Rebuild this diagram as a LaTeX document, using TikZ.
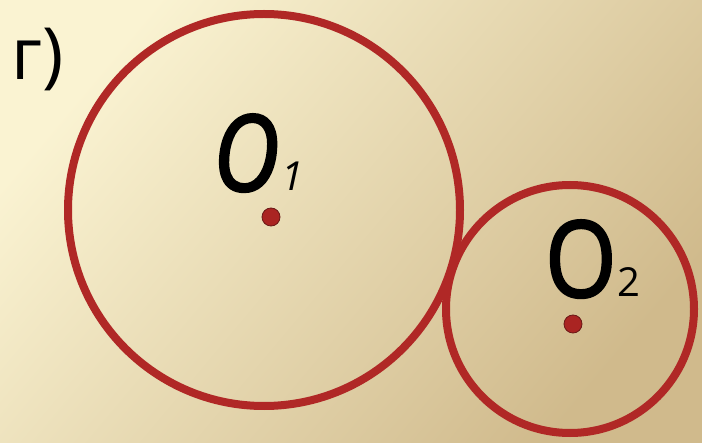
\documentclass[tikz,border=0pt]{standalone}
\usepackage{fontspec}
\setmainfont{Open Sans}
\newfontfamily\heavyfont[FakeBold=2.2, FakeStretch=0.86]{Open Sans}
\usetikzlibrary{positioning}
\definecolor{ringred}{RGB}{176,40,38}
\definecolor{dotred}{RGB}{170,36,34}
\definecolor{paperlight}{RGB}{250,243,210}
\definecolor{paperdark}{RGB}{208,186,140}

\begin{document}
\begin{tikzpicture}[x=0.5pt, y=-0.5pt]
  \tikzset{
    ring/.style={draw=ringred, line width=4pt},
    centre/.style={fill=dotred, draw=ringred!60!black, line width=0.4pt},
    bigletter/.style={font=\fontsize{53}{53}\heavyfont, inner sep=0pt, anchor=base west},
    sublabel/.style={font=\fontsize{20}{20}\selectfont, inner sep=0pt, anchor=base west}
  }
  % background
  \useasboundingbox (0,0) rectangle (702,443);
  \shade[top color=paperlight, bottom color=paperdark, shading angle=50] (0,0) rectangle (702,443);

  \coordinate (c1) at (264,210);
  \coordinate (c2) at (570,309);

  % the two circles
  \draw[ring] (c1) circle (196);
  \draw[ring] (c2) circle (124);

  \filldraw[centre] (271,217) circle (9);
  \filldraw[centre] (573,324) circle (9);

  % labels
  \node[inner sep=0pt, anchor=base west, font=\fontsize{36}{36}\selectfont] (part) at (11,80) {г)};
  \node[bigletter] (o1) at (213,191) {\itshape O};
  \node[sublabel, right=1pt of o1.base east, anchor=base west] (n1) {\itshape 1};
  \node[bigletter] (o2) at (545,297) {O};
  \node[sublabel, right=0pt of o2.base east, anchor=base west] (n2) {2};
\end{tikzpicture}
\end{document}
